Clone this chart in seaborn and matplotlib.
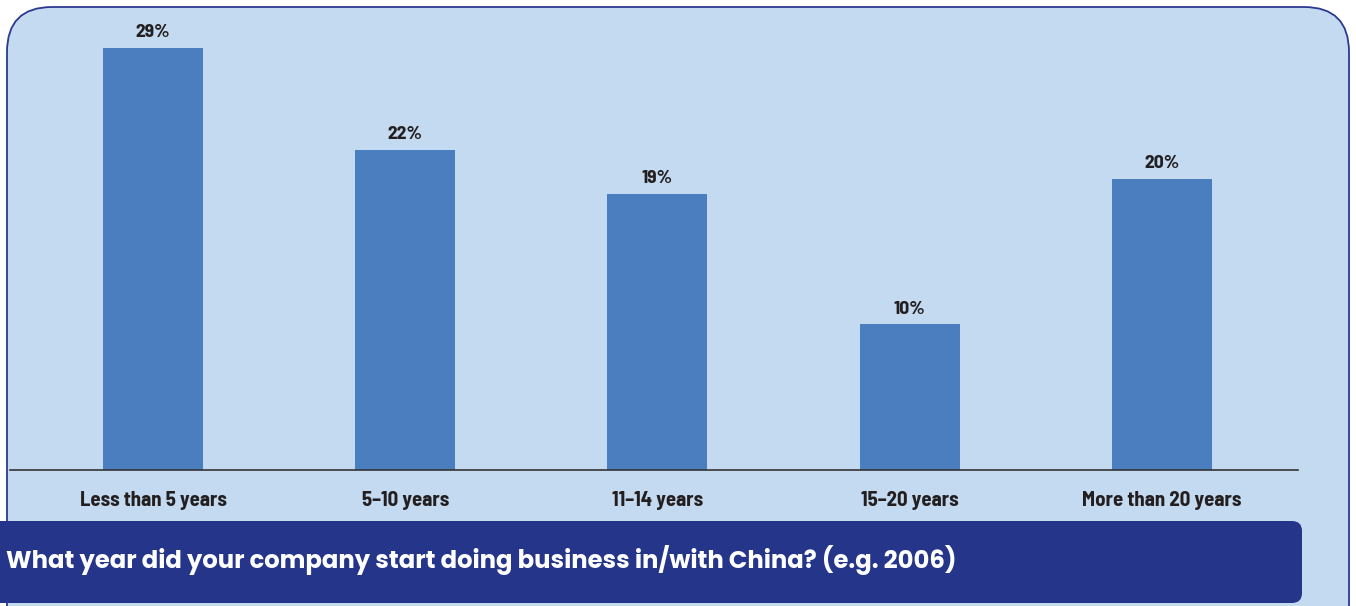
import matplotlib
matplotlib.use("Agg")
import matplotlib.pyplot as plt
from matplotlib.patches import FancyBboxPatch
import seaborn as sns
import pandas as pd

categories = ["Less than 5 years", "5\u201310 years", "11\u201314 years", "15\u201320 years", "More than 20 years"]
shares = [29, 22, 19, 10, 20]
question = "What year did your company start doing business in/with China? (e.g. 2006)"

PANEL = "#C3DAF0"
BAR = "#4A7EBE"
BORDER = "#2B3990"
BANNER = "#24358A"
TEXT = "#231F20"
CONDENSED = ["Barlow Semi Condensed", "DejaVu Sans"]
GEOMETRIC = ["Poppins", "Lato", "DejaVu Sans"]

sns.set_theme(style="white")
plt.rcParams["font.family"] = CONDENSED

W, H = 1356, 606
fig = plt.figure(figsize=(W / 100, H / 100), dpi=100)
fig.patch.set_facecolor("white")

# Decoration layer in pixel units
bg = fig.add_axes([0, 0, 1, 1])
bg.set_xlim(0, W)
bg.set_ylim(H, 0)
bg.axis("off")
bg.add_patch(FancyBboxPatch((7 + 45, 7 + 45), 1342 - 90, 700,
                            boxstyle="round,pad=45,rounding_size=45",
                            facecolor=PANEL, edgecolor=BORDER, linewidth=1.3))
bg.add_patch(FancyBboxPatch((-40 + 10, 521 + 10), 1342 - 20, 82 - 20,
                            boxstyle="round,pad=10,rounding_size=10",
                            facecolor=BANNER, edgecolor="none"))
bg.text(6, 560, question, color="white", fontsize=17.5, fontweight="bold",
        family=GEOMETRIC, va="center", ha="left")

# Bar chart
ax = fig.add_axes([10 / W, (H - 470) / H, (1298 - 10) / W, (470 - 7) / H])
ax.patch.set_alpha(0)
df = pd.DataFrame({"category": categories, "share": shares})
sns.barplot(data=df, x="category", y="share", color=BAR, saturation=1,
            width=0.397, linewidth=0, ax=ax)
ax.set_xlim(-0.567, 4.54)
ax.set_ylim(0, 31.82)
ax.set_xlabel("")
ax.set_ylabel("")
ax.set_yticks([])
for side in ("top", "left", "right"):
    ax.spines[side].set_visible(False)
ax.spines["bottom"].set_color("#333333")
ax.spines["bottom"].set_linewidth(1.2)
ax.tick_params(axis="x", length=0, pad=15, labelsize=15, labelcolor=TEXT)
for lbl in ax.get_xticklabels():
    lbl.set_fontweight("bold")
for c in ax.containers:
    ax.bar_label(c, labels=[f"{v}%" for v in shares], padding=5,
                 fontsize=14, fontweight="bold", color=TEXT)

fig.savefig("out.png", dpi=100)
